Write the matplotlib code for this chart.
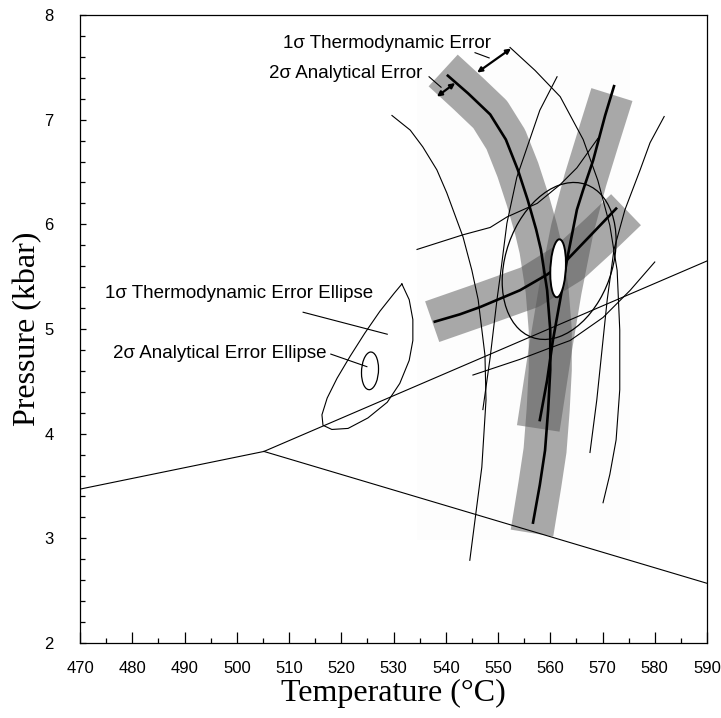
import numpy as np
import matplotlib.pyplot as plt
from matplotlib.patches import Ellipse, Rectangle
from matplotlib.ticker import MultipleLocator

# reaction lines meeting at the triple point
react_left_T = [470, 505.2]
react_left_P = [3.47, 3.83]
react_up_T = [505.2, 590]
react_up_P = [3.83, 5.65]
react_down_T = [505.2, 590]
react_down_P = [3.83, 2.57]

# thick reaction curves (best estimate)
thick1_T = [540.4, 544.3, 548.5, 551.5, 553.8, 555.7, 557.3, 558.2, 559.4, 560.0, 560.0, 559.6, 559.0, 558.0, 556.7]
thick1_P = [7.42, 7.25, 7.05, 6.81, 6.52, 6.23, 5.95, 5.76, 5.37, 4.99, 4.61, 4.23, 3.84, 3.51, 3.15]
thick2_T = [572.2, 570.5, 568.2, 566.3, 565.1, 563.2, 561.9, 560.5, 559.4, 558.0]
thick2_P = [7.32, 7.04, 6.61, 6.33, 6.14, 5.66, 5.28, 4.89, 4.51, 4.13]
thick3_T = [537.9, 542.7, 546.6, 550.4, 554.2, 559.4, 563.2, 568.2, 572.6]
thick3_P = [5.07, 5.14, 5.21, 5.29, 5.37, 5.52, 5.66, 5.92, 6.15]

# grey error bands around the thick curves
band1_T = [539.5, 544.3, 548.5, 551.5, 553.8, 555.7, 557.3, 558.2, 559.4, 560.0, 560.0, 559.6, 559.0, 558.0, 556.5]
band1_P = [7.47, 7.25, 7.05, 6.81, 6.52, 6.23, 5.95, 5.76, 5.37, 4.99, 4.61, 4.23, 3.84, 3.51, 3.05]
band2_T = [571.8, 569.1, 566.7, 564.2, 561.9, 560.0, 557.7]
band2_P = [7.24, 6.81, 6.42, 5.95, 5.37, 4.80, 4.05]
band3_T = [537.4, 546.6, 556.1, 563.8, 569.5, 574.5]
band3_P = [5.07, 5.23, 5.40, 5.64, 5.90, 6.14]

# thin reaction curves
thin1_T = [552.3, 557.1, 561.9, 566.3, 569.1, 571.4, 572.8, 573.3, 573.3, 572.6, 571.4, 570.1]
thin1_P = [7.69, 7.47, 7.22, 6.81, 6.42, 5.99, 5.56, 4.99, 4.42, 3.94, 3.61, 3.34]
thin2_T = [581.8, 579.1, 577.2, 574.3, 572.2, 570.9, 569.9, 568.9, 567.6]
thin2_P = [7.03, 6.78, 6.52, 6.14, 5.76, 5.28, 4.80, 4.32, 3.82]
thin3_T = [561.3, 558.0, 553.6, 551.7, 550.4, 549.8, 548.5, 547.1]
thin3_P = [7.41, 7.09, 6.45, 6.01, 5.50, 5.28, 4.73, 4.23]
thin4_T = [529.7, 533.2, 535.6, 538.3, 540.2, 543.3, 545.0, 546.2, 547.5, 547.7, 546.9, 544.6]
thin4_P = [7.04, 6.90, 6.74, 6.52, 6.30, 5.88, 5.56, 5.28, 4.75, 4.32, 3.68, 2.79]
thin5_T = [534.5, 543.3, 548.5, 551.7, 557.5, 561.9, 565.1, 569.1]
thin5_P = [5.76, 5.90, 5.97, 6.07, 6.20, 6.38, 6.54, 6.82]
thin6_T = [545.2, 554.2, 560.0, 563.8, 570.1, 575.3, 580.0]
thin6_P = [4.56, 4.71, 4.82, 4.89, 5.11, 5.37, 5.64]

# 1 sigma thermodynamic error envelope of the left estimate
left_env_T = [531.6, 533.0, 533.7, 533.7, 533.0, 531.2, 528.8, 525.1, 521.3, 518.2, 516.5,
              516.3, 517.3, 519.2, 521.7, 524.5, 527.4, 530.1, 531.6]
left_env_P = [5.43, 5.28, 5.09, 4.89, 4.70, 4.48, 4.30, 4.15, 4.05, 4.04, 4.08,
              4.18, 4.34, 4.53, 4.74, 4.96, 5.17, 5.34, 5.43]

# error ellipses: centre T, centre P, sigma T, sigma P, correlation
ell_big = [561.7, 5.65, 10.9, 0.75, 0.26]
ell_white = [561.5, 5.58, 1.5, 0.277, 0.17]
ell_left = [525.5, 4.60, 1.63, 0.18, 0.10]


def error_ellipse(ax, e, **kw):
    cov = np.array([[e[2] ** 2, e[4] * e[2] * e[3]], [e[4] * e[2] * e[3], e[3] ** 2]])
    vals, vecs = np.linalg.eigh(cov)
    ang = np.degrees(np.arctan2(vecs[1, 1], vecs[0, 1]))
    ax.add_patch(Ellipse((e[0], e[1]), 2 * np.sqrt(vals[1]), 2 * np.sqrt(vals[0]),
                         angle=ang, **kw))


fig = plt.figure(figsize=(7.21, 7.18), dpi=100)
ax = fig.add_axes([0.111, 0.1045, 0.8696, 0.8746])

ax.add_patch(Rectangle((534.5, 2.98), 40.8, 4.59, color='#fdfdfd', lw=0, zorder=0))

for bt, bp in [(band1_T, band1_P), (band2_T, band2_P), (band3_T, band3_P)]:
    ax.plot(bt, bp, color='#555555', alpha=0.5, lw=31, solid_capstyle='butt',
            solid_joinstyle='round', zorder=1)

for tt, tp in [(react_left_T, react_left_P), (react_up_T, react_up_P), (react_down_T, react_down_P),
               (thin1_T, thin1_P), (thin2_T, thin2_P), (thin3_T, thin3_P),
               (thin4_T, thin4_P), (thin5_T, thin5_P), (thin6_T, thin6_P)]:
    ax.plot(tt, tp, color='black', lw=0.8, zorder=3)

for tt, tp in [(thick1_T, thick1_P), (thick2_T, thick2_P), (thick3_T, thick3_P)]:
    ax.plot(tt, tp, color='black', lw=1.9, zorder=4)

ax.plot(left_env_T, left_env_P, color='black', lw=0.8, zorder=3)
error_ellipse(ax, ell_big, fill=False, ec='black', lw=0.9, zorder=4)
error_ellipse(ax, ell_white, fc='white', ec='black', lw=1.4, zorder=5)
error_ellipse(ax, ell_left, fill=False, ec='black', lw=0.9, zorder=4)

# annotations
lab_font = dict(fontsize=13.5, family='Liberation Sans')
ax.text(548.7, 7.73, '1σ Thermodynamic Error', ha='right', va='center', **lab_font)
ax.text(535.6, 7.44, '2σ Analytical Error', ha='right', va='center', **lab_font)
ax.text(474.8, 5.34, '1σ Thermodynamic Error Ellipse', ha='left', va='center', **lab_font)
ax.text(476.3, 4.77, '2σ Analytical Error Ellipse', ha='left', va='center', **lab_font)
ax.plot([545.6, 548.3], [7.64, 7.59], color='black', lw=0.8)
ax.plot([536.8, 539.1], [7.41, 7.31], color='black', lw=0.8)
ax.plot([512.7, 528.8], [5.16, 4.95], color='black', lw=0.8)
ax.plot([518.0, 524.9], [4.76, 4.64], color='black', lw=0.8)
arrow = dict(arrowstyle='<|-|>', color='black', lw=1.6, mutation_scale=7, shrinkA=0, shrinkB=0)
ax.annotate('', xy=(546.0, 7.45), xytext=(552.5, 7.68), arrowprops=arrow)
ax.annotate('', xy=(538.3, 7.22), xytext=(541.8, 7.35), arrowprops=arrow)

ax.set_xlim(470, 590)
ax.set_ylim(2, 8)
ax.xaxis.set_major_locator(MultipleLocator(10))
ax.xaxis.set_minor_locator(MultipleLocator(5))
ax.yaxis.set_major_locator(MultipleLocator(1))
ax.yaxis.set_minor_locator(MultipleLocator(0.2))
ax.tick_params(axis='both', which='both', direction='in', top=False, right=False, width=0.9)
ax.tick_params(axis='x', which='major', length=8, pad=13)
ax.tick_params(axis='x', which='minor', length=3.5)
ax.tick_params(axis='y', which='major', length=4.5, pad=19)
ax.tick_params(axis='y', which='minor', length=3.5)
for lbl in ax.get_xticklabels() + ax.get_yticklabels():
    lbl.set_family('Liberation Sans')
    lbl.set_fontsize(12)
for sp in ax.spines.values():
    sp.set_linewidth(0.9)

ax.set_xlabel('Temperature (°C)', fontsize=23, family='Liberation Serif', va='center')
ax.xaxis.set_label_coords(0.499, -0.0796)
ax.set_ylabel('Pressure (kbar)', fontsize=23, family='Liberation Serif', va='center')
ax.yaxis.set_label_coords(-0.083, 0.5)

fig.savefig('out.png', dpi=100)
